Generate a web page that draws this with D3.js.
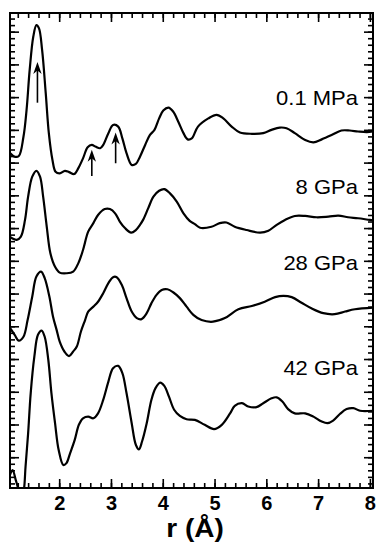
<!DOCTYPE html>
<html>
<head>
<meta charset="utf-8">
<script src="https://cdn.jsdelivr.net/npm/d3@7"></script>
<style>
  body { margin: 0; background: #fff; }
  svg { display: block; }
</style>
</head>
<body>
<svg width="380" height="542"></svg>
<script>
// pressure labels, top to bottom
const pressures = ["0.1 MPa", "8 GPa", "28 GPa", "42 GPa"];

// pair distribution curves, [r (Å), G(r) shifted]
const g01MPa = [[1.05,9.29],[1.14,9.18],[1.22,9.20],[1.31,9.79],[1.37,10.61],[1.43,11.83],[1.50,12.85],[1.56,13.20],[1.61,13.10],[1.67,12.44],[1.74,11.12],[1.80,9.90],[1.87,9.08],[1.93,8.72],[2.01,8.67],[2.11,8.75],[2.19,8.71],[2.29,8.65],[2.37,8.83],[2.46,9.13],[2.55,9.47],[2.63,9.54],[2.70,9.49],[2.79,9.44],[2.85,9.54],[2.95,9.90],[3.04,10.15],[3.14,10.10],[3.22,9.74],[3.30,9.29],[3.40,8.93],[3.48,8.96],[3.56,9.18],[3.66,9.54],[3.75,9.84],[3.84,10.00],[3.93,10.35],[4.01,10.59],[4.11,10.68],[4.20,10.56],[4.30,10.25],[4.40,9.90],[4.48,9.71],[4.56,9.74],[4.68,10.10],[4.88,10.35],[5.04,10.46],[5.17,10.35],[5.33,10.10],[5.49,9.92],[5.72,9.88],[5.94,9.90],[6.10,10.00],[6.26,10.07],[6.39,10.05],[6.55,9.90],[6.75,9.69],[6.91,9.62],[7.07,9.71],[7.26,9.84],[7.45,9.98],[7.61,9.98],[7.77,9.95],[7.94,9.93],[8.06,9.95]];

const g8GPa = [[1.05,6.73],[1.18,6.64],[1.26,6.74],[1.34,7.25],[1.40,7.96],[1.48,8.57],[1.56,8.75],[1.63,8.57],[1.69,7.96],[1.76,7.04],[1.83,6.23],[1.92,5.82],[2.01,5.64],[2.14,5.62],[2.27,5.67],[2.37,5.93],[2.46,6.33],[2.56,6.89],[2.66,7.15],[2.75,7.40],[2.88,7.58],[2.98,7.58],[3.08,7.45],[3.17,7.20],[3.27,7.00],[3.39,6.86],[3.48,6.94],[3.56,7.10],[3.62,7.25],[3.72,7.61],[3.82,7.96],[3.93,8.14],[4.03,8.19],[4.14,8.06],[4.27,7.81],[4.40,7.45],[4.52,7.22],[4.62,7.12],[4.72,7.01],[4.94,7.04],[5.10,7.15],[5.23,7.17],[5.39,7.04],[5.62,6.94],[5.88,6.86],[6.04,6.92],[6.20,7.10],[6.36,7.25],[6.55,7.37],[6.75,7.37],[6.97,7.33],[7.20,7.35],[7.39,7.38],[7.58,7.33],[7.77,7.30],[8.00,7.25],[8.06,7.24]];

const g28GPa = [[1.05,3.95],[1.14,3.74],[1.22,3.56],[1.31,3.68],[1.39,4.19],[1.48,4.91],[1.56,5.52],[1.65,5.67],[1.72,5.47],[1.81,4.91],[1.88,4.30],[1.95,3.89],[2.01,3.53],[2.10,3.23],[2.19,3.09],[2.27,3.23],[2.34,3.38],[2.42,3.84],[2.50,4.19],[2.56,4.45],[2.66,4.60],[2.75,4.75],[2.85,5.01],[2.95,5.32],[3.04,5.50],[3.11,5.50],[3.21,5.26],[3.30,4.86],[3.40,4.45],[3.50,4.25],[3.59,4.22],[3.69,4.40],[3.78,4.70],[3.88,4.96],[3.98,5.11],[4.09,5.13],[4.20,5.04],[4.33,4.86],[4.46,4.60],[4.59,4.35],[4.75,4.19],[4.97,4.14],[5.20,4.25],[5.46,4.52],[5.72,4.62],[5.97,4.75],[6.17,4.89],[6.33,4.93],[6.49,4.89],[6.68,4.72],[6.87,4.55],[7.10,4.40],[7.32,4.37],[7.52,4.45],[7.71,4.52],[8.06,4.57]];

const g42GPa = [[1.05,-0.54],[1.10,-0.39],[1.16,-0.69],[1.21,-0.98],[1.26,-1.45],[1.32,-0.98],[1.35,-0.29],[1.40,0.73],[1.45,1.96],[1.52,3.07],[1.59,3.74],[1.66,3.87],[1.72,3.68],[1.79,2.97],[1.85,1.96],[1.92,1.04],[1.99,0.22],[2.08,-0.24],[2.14,-0.18],[2.21,0.12],[2.30,0.53],[2.38,0.99],[2.46,1.19],[2.56,1.24],[2.66,1.19],[2.75,1.34],[2.85,1.75],[2.95,2.31],[3.04,2.72],[3.14,2.79],[3.22,2.57],[3.30,1.96],[3.40,1.04],[3.48,0.38],[3.54,0.24],[3.60,0.48],[3.69,1.04],[3.78,1.75],[3.86,2.11],[3.95,2.28],[4.03,2.18],[4.12,1.85],[4.22,1.45],[4.33,1.26],[4.46,1.16],[4.62,1.14],[4.81,0.99],[4.99,0.86],[5.14,0.99],[5.30,1.34],[5.39,1.57],[5.53,1.65],[5.65,1.55],[5.81,1.53],[5.94,1.65],[6.10,1.80],[6.20,1.83],[6.31,1.70],[6.42,1.47],[6.55,1.34],[6.75,1.34],[6.91,1.24],[7.07,1.09],[7.18,1.04],[7.29,1.12],[7.42,1.32],[7.55,1.47],[7.68,1.50],[7.81,1.42],[8.06,1.42]];

const curves = [g01MPa, g8GPa, g28GPa, g42GPa];

// arrows on the 0.1 MPa curve: r, tail and tip height
const arrowR = [1.58, 2.63, 3.09];
const arrowTail = [10.83, 8.59, 8.98];
const arrowTip = [12.07, 9.39, 9.92];

// x tick labels
const xTickLabels = [2, 3, 4, 5, 6, 7, 8];

const svg = d3.select("svg");
const box = { left: 10, right: 373, top: 13, bottom: 488 };

const x = d3.scaleLinear().domain([1.05, 8.06]).range([box.left, box.right]);
const y = d3.scaleLinear().domain([-0.94, 13.57]).range([box.bottom, box.top]);

const font = "'Liberation Sans', Arial, Helvetica, sans-serif";

svg.append("clipPath").attr("id", "plot")
  .append("rect")
  .attr("x", box.left).attr("y", box.top)
  .attr("width", box.right - box.left).attr("height", box.bottom - box.top);

// ticks: every 0.2 minor, integers major
const xMinor = d3.range(1.2, 8.01, 0.2).map(d => +d.toFixed(1));
const yMinor = d3.range(-0.8, 13.5, 0.2).map(d => +d.toFixed(1));
const yMajor = d3.range(0, 14);

const frameAxes = [
  [() => d3.axisTop(x), `translate(0,${box.top})`, xMinor, xTickLabels],
  [() => d3.axisBottom(x), `translate(0,${box.bottom})`, xMinor, xTickLabels],
  [() => d3.axisLeft(y), `translate(${box.left},0)`, yMinor, yMajor],
  [() => d3.axisRight(y), `translate(${box.right},0)`, yMinor, yMajor]
];

frameAxes.forEach(([mk, tr, minor, major]) => {
  svg.append("g").attr("transform", tr)
    .call(mk().tickValues(minor).tickSize(-5).tickFormat(""))
    .call(g => g.select(".domain").remove());
  svg.append("g").attr("transform", tr)
    .call(mk().tickValues(major).tickSize(-9).tickFormat(""))
    .call(g => g.select(".domain").remove());
});

svg.selectAll(".tick line").attr("stroke", "#000").attr("stroke-width", 1.6);

// bottom tick labels
svg.append("g").attr("transform", `translate(0,${box.bottom})`)
  .call(d3.axisBottom(x).tickValues(xTickLabels).tickSize(0).tickPadding(8).tickFormat(d3.format("d")))
  .call(g => g.select(".domain").remove())
  .selectAll("text")
  .attr("font-family", font)
  .attr("font-weight", "bold")
  .attr("font-size", 20)
  .attr("fill", "#000");

// frame
svg.append("rect")
  .attr("x", box.left).attr("y", box.top)
  .attr("width", box.right - box.left).attr("height", box.bottom - box.top)
  .attr("fill", "none").attr("stroke", "#000").attr("stroke-width", 2);

// curves
const line = d3.line()
  .x(d => x(d[0]))
  .y(d => y(d[1]))
  .curve(d3.curveCatmullRom.alpha(0.5));

svg.append("g").attr("clip-path", "url(#plot)")
  .selectAll("path")
  .data(curves)
  .join("path")
  .attr("d", line)
  .attr("fill", "none")
  .attr("stroke", "#000")
  .attr("stroke-width", 2.2)
  .attr("stroke-linejoin", "round");

// arrows
const arrows = svg.append("g");
arrowR.forEach((r, i) => {
  const px = x(r), y0 = y(arrowTail[i]), y1 = y(arrowTip[i]);
  arrows.append("line")
    .attr("x1", px).attr("x2", px)
    .attr("y1", y0).attr("y2", y1 + 6)
    .attr("stroke", "#000").attr("stroke-width", 1.6);
  arrows.append("path")
    .attr("d", `M${px},${y1} L${px + 4.2},${y1 + 12} L${px},${y1 + 8.5} L${px - 4.2},${y1 + 12} Z`)
    .attr("fill", "#000");
});

// pressure labels
const labelOffsets = [10.76, 8.03, 5.71, 2.51];
svg.append("g").selectAll("g")
  .data(pressures)
  .join("g")
  .attr("transform", (d, i) => `translate(${x(7.77)},${y(labelOffsets[i])}) scale(1.1,1)`)
  .append("text")
  .attr("text-anchor", "end")
  .attr("font-family", font)
  .attr("font-size", 20)
  .attr("fill", "#000")
  .text(d => d);

// axis title
svg.append("g")
  .attr("transform", `translate(195,537) scale(1.12,1)`)
  .append("text")
  .attr("text-anchor", "middle")
  .attr("font-family", font)
  .attr("font-weight", "bold")
  .attr("font-size", 25)
  .attr("fill", "#000")
  .text("r (Å)");
</script>
</body>
</html>
